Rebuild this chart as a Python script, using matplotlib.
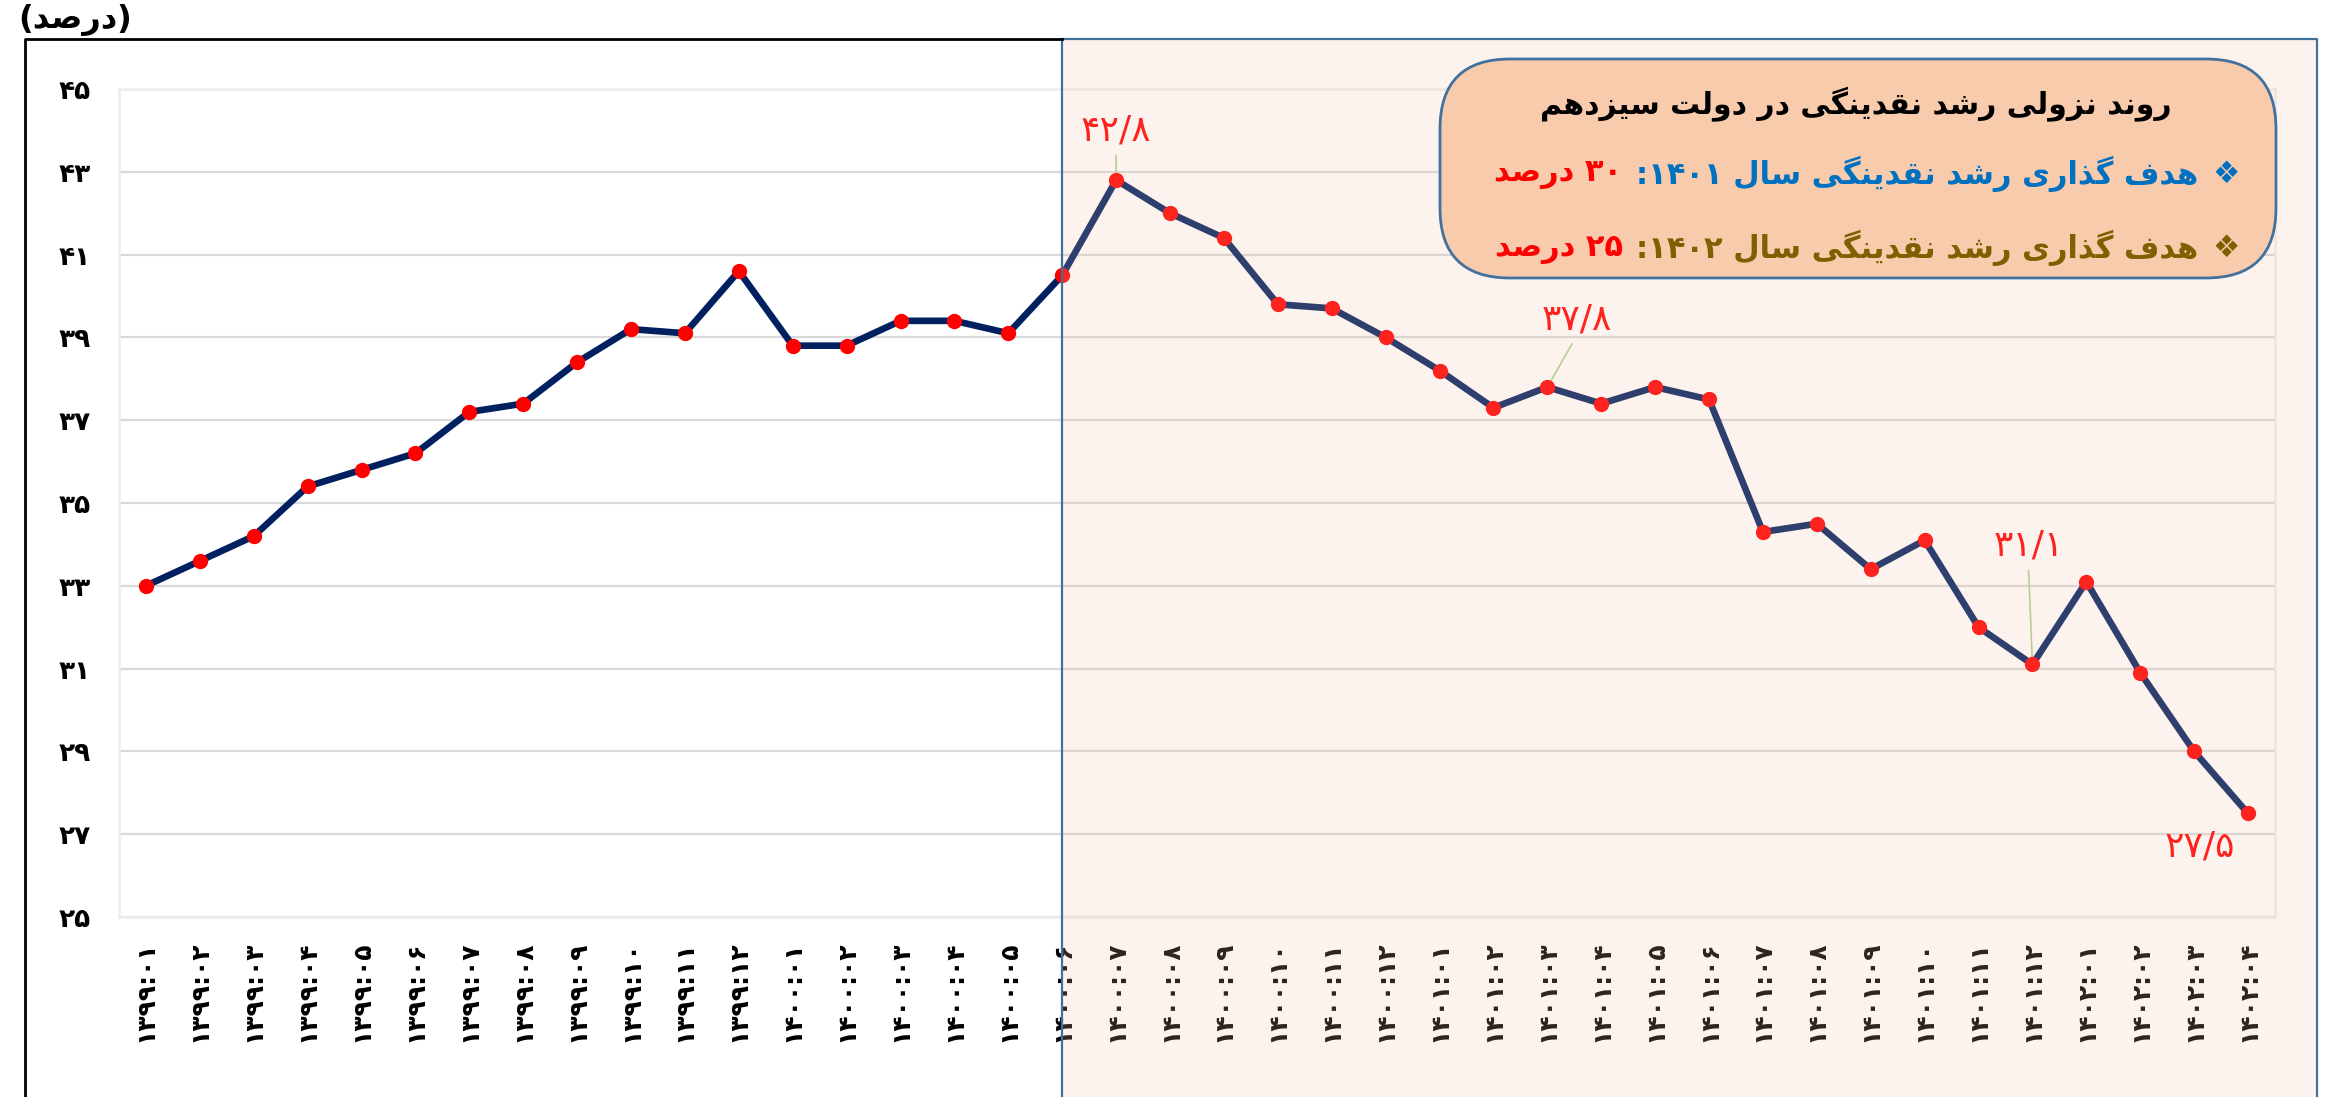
import re
import matplotlib
matplotlib.use('Agg')
import matplotlib.pyplot as plt
from matplotlib.patches import FancyBboxPatch, Rectangle
from matplotlib.lines import Line2D
from matplotlib.offsetbox import TextArea, HPacker, AnnotationBbox

plt.rcParams['font.family'] = ['DejaVu Sans']

# monthly liquidity growth (percent), 1399:01 .. 1402:04
periods = ['1399:01', '1399:02', '1399:03', '1399:04', '1399:05', '1399:06',
           '1399:07', '1399:08', '1399:09', '1399:10', '1399:11', '1399:12',
           '1400:01', '1400:02', '1400:03', '1400:04', '1400:05', '1400:06',
           '1400:07', '1400:08', '1400:09', '1400:10', '1400:11', '1400:12',
           '1401:01', '1401:02', '1401:03', '1401:04', '1401:05', '1401:06',
           '1401:07', '1401:08', '1401:09', '1401:10', '1401:11', '1401:12',
           '1402:01', '1402:02', '1402:03', '1402:04']
growth = [33.0, 33.6, 34.2, 35.4, 35.8, 36.2, 37.2, 37.4, 38.4, 39.2, 39.1, 40.6,
          38.8, 38.8, 39.4, 39.4, 39.1, 40.5, 42.8, 42.0, 41.4, 39.8, 39.7, 39.0,
          38.2, 37.3, 37.8, 37.4, 37.8, 37.5, 34.3, 34.5, 33.4, 34.1, 32.0, 31.1,
          33.1, 30.9, 29.0, 27.5]
yticks = list(range(25, 46, 2))
start_13th = 17          # index where the shaded part begins (1400:06)
labelled = [18, 26, 35, 39]
label_offsets = [(0, 36), (21, 49), (-3, 86), (-35, -24)]

unit = '(درصد)'
box_title = 'روند نزولی رشد نقدینگی در دولت سیزدهم'
goal_1401 = 'هدف گذاری رشد نقدینگی سال ۱۴۰۱:'
goal_1402 = 'هدف گذاری رشد نقدینگی سال ۱۴۰۲:'
val_1401 = '۳۰ درصد'
val_1402 = '۲۵ درصد'

FA = str.maketrans('0123456789.', '۰۱۲۳۴۵۶۷۸۹/')

# (isolated, final, initial, medial)
FORMS = {
    'ا': ('\uFE8D', '\uFE8E', None, None),
    'د': ('\uFEA9', '\uFEAA', None, None),
    'ذ': ('\uFEAB', '\uFEAC', None, None),
    'ر': ('\uFEAD', '\uFEAE', None, None),
    'ز': ('\uFEAF', '\uFEB0', None, None),
    'و': ('\uFEED', '\uFEEE', None, None),
    'ت': ('\uFE95', '\uFE96', '\uFE97', '\uFE98'),
    'س': ('\uFEB1', '\uFEB2', '\uFEB3', '\uFEB4'),
    'ش': ('\uFEB5', '\uFEB6', '\uFEB7', '\uFEB8'),
    'ص': ('\uFEB9', '\uFEBA', '\uFEBB', '\uFEBC'),
    'ف': ('\uFED1', '\uFED2', '\uFED3', '\uFED4'),
    'ق': ('\uFED5', '\uFED6', '\uFED7', '\uFED8'),
    'ل': ('\uFEDD', '\uFEDE', '\uFEDF', '\uFEE0'),
    'م': ('\uFEE1', '\uFEE2', '\uFEE3', '\uFEE4'),
    'ن': ('\uFEE5', '\uFEE6', '\uFEE7', '\uFEE8'),
    'ه': ('\uFEE9', '\uFEEA', '\uFEEB', '\uFEEC'),
    'ی': ('\uFBFC', '\uFBFD', '\uFBFE', '\uFBFF'),
    'گ': ('\uFB92', '\uFB93', '\uFB94', '\uFB95'),
}


def shape(s):
    out = []
    for i, ch in enumerate(s):
        f = FORMS.get(ch)
        if f is None:
            out.append(ch)
            continue
        prev = s[i - 1] if i > 0 else ''
        nxt = s[i + 1] if i + 1 < len(s) else ''
        jp = prev in FORMS and FORMS[prev][2] is not None
        jn = f[2] is not None and nxt in FORMS
        if jp and jn:
            out.append(f[3])
        elif jp:
            out.append(f[1])
        elif jn:
            out.append(f[2])
        else:
            out.append(f[0])
    return ''.join(out)


def rtl(s):
    r = shape(s)[::-1]
    r = re.sub('[۰-۹0-9٫/]+', lambda m: m.group(0)[::-1], r)
    return r.translate(str.maketrans('()', ')('))


W, H = 2331, 1097
fig = plt.figure(figsize=(W / 100, H / 100), dpi=100)
ax = fig.add_axes([119 / W, 1 - 917 / H, (2275 - 119) / W, (917 - 89) / H])

x = list(range(len(growth)))
ax.plot(x, growth, color='#002060', lw=4.8, zorder=3, solid_joinstyle='round')
ax.plot(x, growth, 'o', color='#FF0000', ms=10, zorder=4)

ax.set_xlim(-0.5, len(growth) - 0.5)
ax.set_ylim(25, 45)
ax.set_yticks(yticks)
ax.set_yticklabels([str(v).translate(FA) for v in yticks], fontsize=19, fontweight='bold')
ax.set_xticks(x)
ax.set_xticklabels([p.translate(FA) for p in periods], rotation=90, fontsize=18,
                   fontweight='bold', va='top')
ax.tick_params(axis='y', length=0, pad=20)
ax.tick_params(axis='x', length=0, pad=17)
ax.grid(axis='y', color='#D9D9D9', lw=1.6, zorder=0)
for s in ax.spines.values():
    s.set_color('#EDEDED')
    s.set_linewidth(1.8)

for i, off in zip(labelled, label_offsets):
    txt = ('%.1f' % growth[i]).translate(FA)
    if off[1] > 0:
        ax.annotate(txt, (i, growth[i]), xytext=off, textcoords='offset points',
                    ha='center', va='center', color='#FF0000', fontsize=26,
                    arrowprops=dict(arrowstyle='-', color='#A9D18E', lw=1.2,
                                    relpos=(0.5, 0), shrinkA=4, shrinkB=2))
    else:
        ax.annotate(txt, (i, growth[i]), xytext=off, textcoords='offset points',
                    ha='center', va='center', color='#FF0000', fontsize=26)

# shaded area for the 13th government period
x0 = fig.transFigure.inverted().transform(ax.transData.transform((start_13th, 0)))[0]
top = 1 - 39 / H
right = 2317 / W
fig.add_artist(Rectangle((x0, 0), right - x0, top, transform=fig.transFigure,
                         facecolor='#F5C1A7', alpha=0.19, edgecolor='none', zorder=2))
fig.add_artist(Line2D([x0, x0, right, right], [0, top, top, 0], transform=fig.transFigure,
                      color='#41719C', lw=1.6, zorder=3))
fig.add_artist(Line2D([25 / W, 25 / W, x0], [0, top, top], transform=fig.transFigure,
                      color='black', lw=2, zorder=3))

fig.text(75 / W, 1 - 20 / H, rtl(unit), ha='center', va='center', fontsize=23,
         fontweight='bold')

# info box
bx0, bx1 = 1440 / W, 2276 / W
by0, by1 = 1 - 278 / H, 1 - 59 / H
fig.add_artist(FancyBboxPatch((bx0, by0), bx1 - bx0, by1 - by0,
                              boxstyle='round,pad=0,rounding_size=0.03',
                              transform=fig.transFigure, facecolor='#F8CBAD',
                              edgecolor='#41719C', lw=2, zorder=5,
                              mutation_aspect=W / H))
fig.text(1856 / W, 1 - 104 / H, rtl(box_title), ha='center', va='center',
         fontsize=21.5, fontweight='bold', color='black', zorder=6)

for goal, val, col, yy in [(goal_1401, val_1401, '#0070C0', 174),
                           (goal_1402, val_1402, '#7F6000', 248)]:
    parts = [TextArea(rtl(val), textprops=dict(color='#FF0000', fontsize=22, fontweight='bold')),
             TextArea(rtl(goal), textprops=dict(color=col, fontsize=22, fontweight='bold')),
             TextArea('\u2756', textprops=dict(color=col, fontsize=22))]
    pack = HPacker(children=parts, align='center', pad=0, sep=10)
    ab = AnnotationBbox(pack, (2240 / W, 1 - yy / H), xycoords='figure fraction',
                        box_alignment=(1, 0.5), frameon=False, pad=0)
    ab.set_zorder(6)
    fig.add_artist(ab)

fig.savefig('out.png', dpi=100)
